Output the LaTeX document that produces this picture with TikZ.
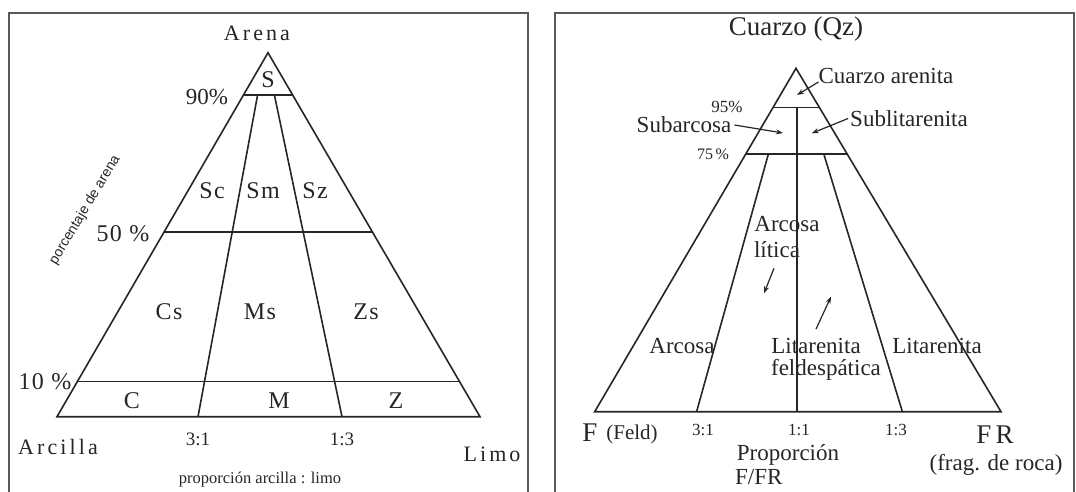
\documentclass[tikz,border=0pt]{standalone}
\usepackage{fontspec}
\setmainfont{Liberation Serif}
\newfontfamily\spc[LetterSpace=14]{Liberation Serif}
\newfontfamily\spn[LetterSpace=6]{Liberation Serif}
\newfontfamily\lsans{Liberation Sans}
\usetikzlibrary{arrows.meta,calc}
\begin{document}
\begin{tikzpicture}[x=1pt,y=-1pt,
  ln/.style={line width=1.6pt, draw=black!85},
  frm/.style={line width=2pt, draw=black!65},
  arr/.style={line width=1.2pt, draw=black!85, -{Stealth[length=7pt,width=5pt]}},
  lab/.style={inner sep=0pt, text=black!85, font=\fontsize{23}{25}\selectfont},
  llab/.style={inner sep=0pt, text=black!85, font=\spc\fontsize{22}{24}\selectfont},
  rlab/.style={inner sep=0pt, text=black!85, font=\spn\fontsize{24}{26}\selectfont},
  small/.style={inner sep=0pt, text=black!85, font=\fontsize{17}{19}\selectfont},
]
\useasboundingbox (0,0) rectangle (1076,492);
\fill[white] (0,0) rectangle (1076,492);
% frames
\draw[frm] (8.6,492) -- (8.6,13.3) -- (528,13.3) -- (528,492);
\draw[frm] (555,492) -- (555,13.3) -- (1074,13.3) -- (1074,492);

% ---------------- left triangle ----------------
\coordinate (A) at (268,52.7);
\coordinate (BL) at (57,416.7);
\coordinate (BR) at (480,416.7);
\coordinate (L90) at ($(A)!0.1162!(BL)$);
\coordinate (R90) at ($(A)!0.1162!(BR)$);
\coordinate (L50) at ($(A)!0.4934!(BL)$);
\coordinate (R50) at ($(A)!0.4934!(BR)$);
\coordinate (L10) at ($(A)!0.9038!(BL)$);
\coordinate (R10) at ($(A)!0.9038!(BR)$);
\coordinate (T1) at (257.6,95);
\coordinate (T2) at (274.4,95);
\coordinate (B31) at (198,416.7);
\coordinate (B13) at (342,416.7);
\draw[ln, line join=miter] (A) -- (BL) -- (BR) -- cycle;
\draw[ln] (L90) -- (R90);
\draw[ln] (L50) -- (R50);
\draw[ln] (L10) -- (R10);
\draw[ln] (T1) -- (B31);
\draw[ln] (T2) -- (B13);

\node[llab] (arena) at (257,33.5) {Arena};
\node[rlab] (s) at (268,80) {S};
\node[lab] (p90) at (207,97) {90\%};
\node[rlab] (sc) at (212,191) {Sc};
\node[rlab] (sm) at (263,191) {Sm};
\node[rlab] (sz) at (315,191) {Sz};
\node[rlab] (p50) at (123,233.5) {50 \%};
\node[rlab] (cs) at (169,312) {Cs};
\node[rlab] (ms) at (260,312) {Ms};
\node[rlab] (zs) at (366,312) {Zs};
\node[rlab] (p10) at (45,381.5) {10 \%};
\node[rlab] (c) at (132,400.5) {C};
\node[rlab] (m) at (279,400.5) {M};
\node[rlab] (z) at (396,400.5) {Z};
\node[llab] (arcilla) at (58,447) {Arcilla};
\node[llab] (limo) at (492,454) {Limo};
\node[small, font=\fontsize{19}{21}\selectfont] (r31) at (198,439.5) {3:1};
\node[small, font=\fontsize{19}{21}\selectfont] (r13) at (342,439.5) {1:3};
\node[inner sep=0pt, text=black!85, font=\fontsize{16.5}{18}\selectfont] (prop) at (260,480) {proporción arcilla : limo};
\node[inner sep=0pt, text=black!85, font=\lsans\fontsize{14}{16}\selectfont, rotate=59] (pctar) at (85,210) {porcentaje de arena};

% ---------------- right triangle ----------------
\coordinate (QA) at (796,68.3);
\coordinate (QL) at (594.7,411.7);
\coordinate (QR) at (1001,411.7);
\coordinate (L95) at ($(QA)!0.1147!(QL)$);
\coordinate (R95) at ($(QA)!0.1147!(QR)$);
\coordinate (L75) at ($(QA)!0.2496!(QL)$);
\coordinate (R75) at ($(QA)!0.2496!(QR)$);
\coordinate (V1) at (797,107.7);
\coordinate (V2) at (797,411.7);
\coordinate (U1) at (768.4,154);
\coordinate (U2) at (823.8,154);
\coordinate (F31) at (696.6,411.7);
\coordinate (F13) at (902.4,411.7);
\draw[ln, line join=miter] (QA) -- (QL) -- (QR) -- cycle;
\draw[ln] (L95) -- (R95);
\draw[ln] (L75) -- (R75);
\draw[ln] (V1) -- (V2);
\draw[ln] (U1) -- (F31);
\draw[ln] (U2) -- (F13);

\node[lab, font=\fontsize{27}{29}\selectfont] (qz) at (796,29.5) {Cuarzo (Qz)};
\node[lab] (cqa) at (886,76) {Cuarzo arenita};
\node[lab] (sub) at (684,125) {Subarcosa};
\node[lab] (subl) at (909,118.5) {Sublitarenita};
\node[small] (p95) at (727,106.5) {95\%};
\node[small, font=\fontsize{16}{18}\selectfont] (p75) at (713,154) {75\,\%};
\node[lab] (arl1) at (787,224) {Arcosa};
\node[lab] (arl2) at (777,250) {lítica};
\node[lab] (arc) at (682,346) {Arcosa};
\node[lab] (litm) at (816,346) {Litarenita};
\node[lab] (feld) at (826,370) {feldespática};
\node[lab] (litr) at (937,346) {Litarenita};
\node[inner sep=0pt, text=black!85, font=\fontsize{27}{29}\selectfont] (f) at (590,433) {F};
\node[lab, font=\fontsize{21}{23}\selectfont] (feldl) at (632,434) {(Feld)};
\node[small] (q31) at (703,430) {3:1};
\node[small] (q11) at (799,430) {1:1};
\node[small] (q13) at (896,430) {1:3};
\node[inner sep=0pt, text=black!85, font=\fontsize{27}{29}\selectfont] (fr) at (995,435) {F\,R};
\node[lab] (frag) at (996,465) {(frag. de roca)};
\node[lab] (propr) at (788,455) {Proporción};
\node[lab, anchor=west] (ffr) at (735,477) {F/FR};

\coordinate (tCA) at (797,95);
\coordinate (tSub) at (783,133);
\coordinate (tSubl) at (811.7,133.3);
\coordinate (tLit) at (764,293.3);
\coordinate (tLF) at (831,296.7);
\draw[arr] ([yshift=-6pt]cqa.west) -- (tCA);
\draw[arr] ([xshift=3pt]sub.east) -- (tSub);
\draw[arr] ([xshift=-2pt]subl.west) -- (tSubl);
\draw[arr] ([yshift=-10pt,xshift=-3pt]arl2.south) -- (tLit);
\draw[arr] ([yshift=9pt]litm.north) -- (tLF);
\end{tikzpicture}
\end{document}
